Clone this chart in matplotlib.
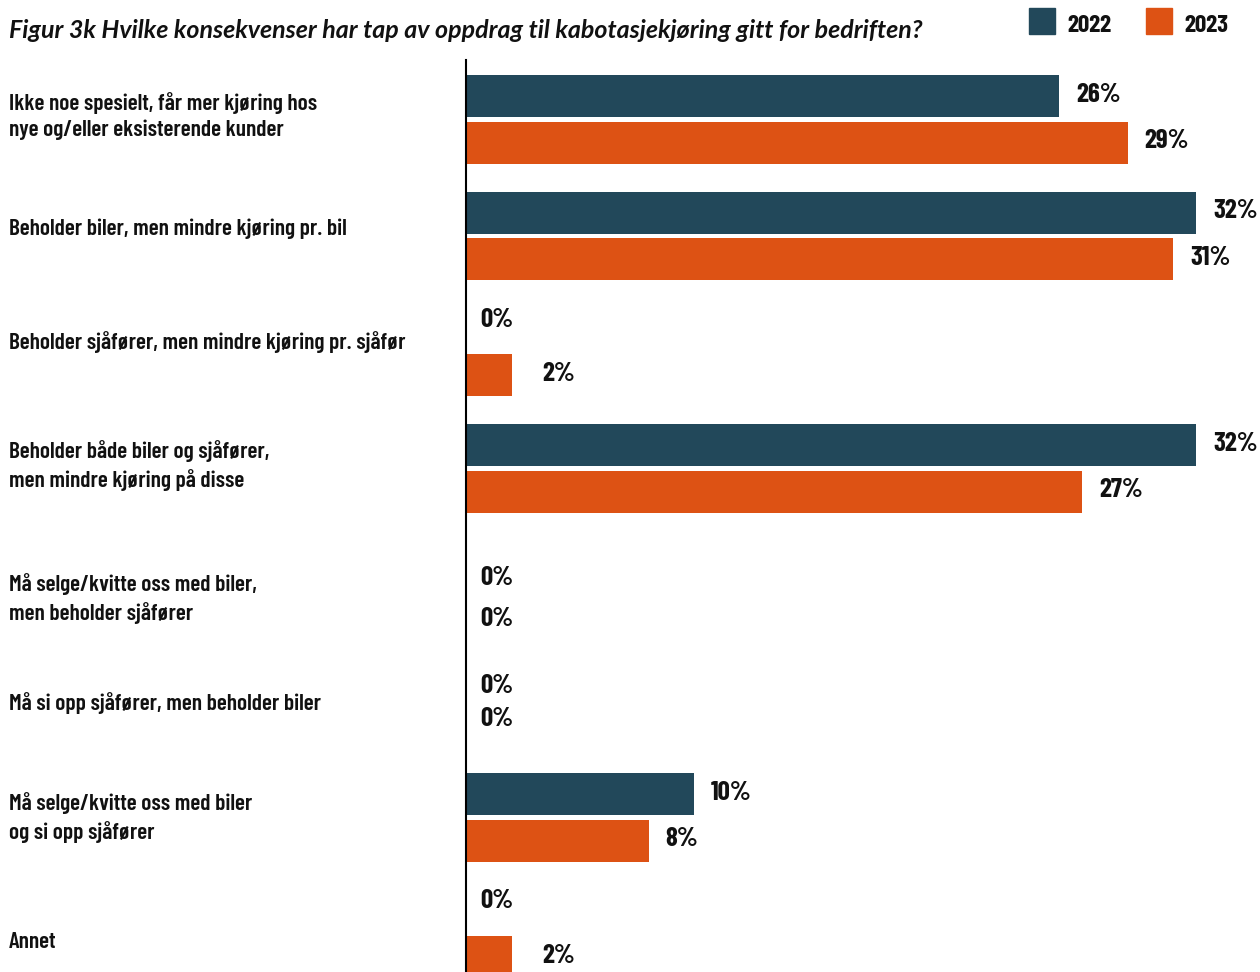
import matplotlib
matplotlib.use("Agg")
import matplotlib.pyplot as plt
from matplotlib.patches import Rectangle
import numpy as np

categories = [
    "Ikke noe spesielt, får mer kjøring hos\nnye og/eller eksisterende kunder",
    "Beholder biler, men mindre kjøring pr. bil",
    "Beholder sjåfører, men mindre kjøring pr. sjåfør",
    "Beholder både biler og sjåfører,\nmen mindre kjøring på disse",
    "Må selge/kvitte oss med biler,\nmen beholder sjåfører",
    "Må si opp sjåfører, men beholder biler",
    "Må selge/kvitte oss med biler\nog si opp sjåfører",
    "Annet",
]
v2022 = [26, 32, 0, 32, 0, 0, 10, 0]
v2023 = [29, 31, 2, 27, 0, 0, 8, 2]
series_names = ["2022", "2023"]
colors = ["#22485A", "#DD5214"]
title = "Figur 3k Hvilke konsekvenser har tap av oppdrag til kabotasjekjøring gitt for bedriften?"

W, H = 1260, 972
fig = plt.figure(figsize=(W / 100, H / 100), dpi=100)

cond = ["Barlow Condensed", "DejaVu Sans"]

ax_left, ax_right = 466, 1260
ax_top, ax_bottom = 60, 972
ax = fig.add_axes([ax_left / W, 1 - ax_bottom / H, (ax_right - ax_left) / W, (ax_bottom - ax_top) / H])

px_per_pct = (1196 - 466) / 32
spacing = 116.3
c0 = 119.5
ax.set_xlim(0, (ax_right - ax_left) / px_per_pct)
ax.set_ylim((ax_bottom - c0) / spacing, (ax_top - c0) / spacing)

y = np.arange(len(categories))
off = 23.3 / spacing
h = 42 / spacing
ax.barh(y - off, v2022, height=h, color=colors[0])
ax.barh(y + off, v2023, height=h, color=colors[1])

for s in ["top", "right", "bottom"]:
    ax.spines[s].set_visible(False)
ax.spines["left"].set_linewidth(1.5)
ax.spines["left"].set_color("black")
ax.set_xticks([])
ax.set_yticks([])

# vertical nudges (points) for value labels, mimicking the reference placement
nudge = {(2, 0): 6, (4, 0): -12, (4, 1): -8, (5, 0): -6, (5, 1): 4, (7, 0): 7}

for si, vals in enumerate([v2022, v2023]):
    for i, v in enumerate(vals):
        yy = y[i] + (-off if si == 0 else off)
        if v == 0:
            dx = 14 * 0.72
        elif v <= 2:
            dx = 31 * 0.72
        else:
            dx = 17 * 0.72
        dy = nudge.get((i, si), 1)
        ax.annotate(f"{v}%", xy=(v, yy), xytext=(dx, dy), textcoords="offset points",
                    ha="left", va="center", fontsize=19.5, fontweight=700,
                    family=cond, color="#111111", annotation_clip=False)

# category label vertical shifts (pixels) relative to group centre
label_shift = [-3.5, -7, -10, -3, 14, 2, 0, 8]
for i, cat in enumerate(categories):
    ypx = c0 + spacing * i + label_shift[i]
    fig.text(9 / W, 1 - ypx / H, cat, ha="left", va="center", fontsize=16.8,
             fontweight=600, family=cond, color="#111111", linespacing=1.36)

fig.text(9 / W, 1 - 31 / H, title, ha="left", va="center", fontsize=18,
         fontweight="bold", fontstyle="italic", family=["Lato", "DejaVu Sans"], color="#111111")

for k, (name, col, x0) in enumerate(zip(series_names, colors, [1029, 1146])):
    fig.patches.append(Rectangle((x0 / W, 1 - 34 / H), 26 / W, 26 / H,
                                 transform=fig.transFigure, color=col, figure=fig))
    fig.text((x0 + 38) / W, 1 - 26 / H, name, ha="left", va="center", fontsize=18,
             fontweight=700, family=cond, color="#111111")

fig.savefig("out.png", dpi=100)
